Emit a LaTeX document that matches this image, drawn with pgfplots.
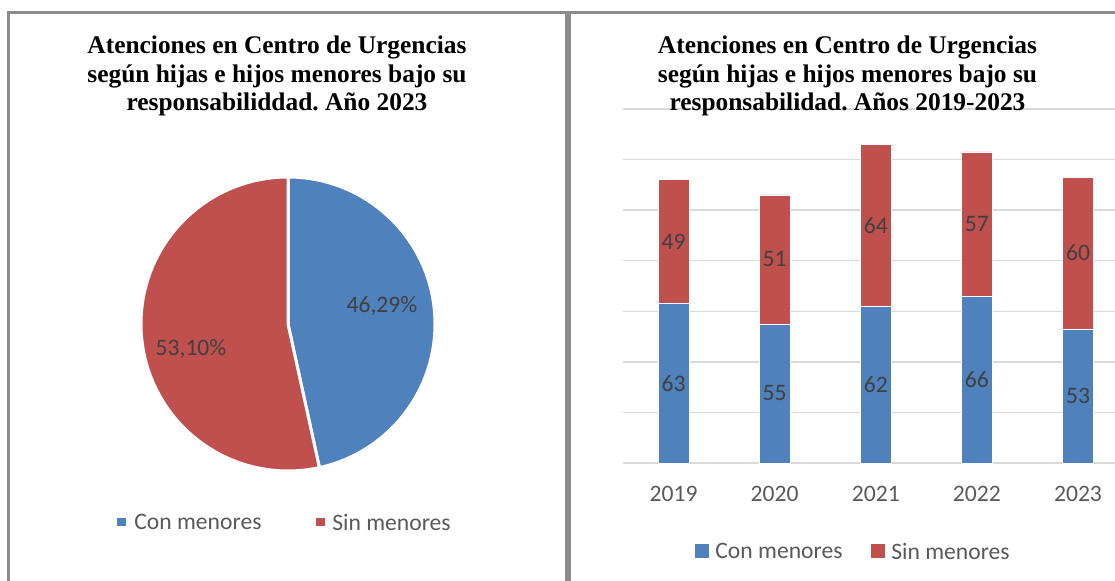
\documentclass[border=0pt]{standalone}
\usepackage{pgfplots}
\usepackage{pgfplotstable}
\pgfplotsset{compat=1.18}
\usepackage{fontspec}
\setmainfont{Carlito}
\newfontfamily\titlefont{Liberation Serif}
\frenchspacing
\definecolor{cblue}{HTML}{4F81BD}
\definecolor{cred}{HTML}{C0504D}
\definecolor{gridgray}{HTML}{D9D9D9}
\definecolor{framegray}{HTML}{8C8C8C}
\definecolor{labgray}{HTML}{404040}
\definecolor{axgray}{HTML}{595959}
\newcommand\lbl{\fontsize{11.8pt}{14pt}\selectfont}
\newcommand\ttl{\titlefont\bfseries\fontsize{12.7pt}{14.25pt}\selectfont}
% pie data (percentages)
\pgfplotstableread{
cat share
Con 46.29
Sin 53.10
}\piedata
% bar data
\pgfplotstableread{
x year con sin
0 2019 63 49
1 2020 55 51
2 2021 62 64
3 2022 66 57
4 2023 53 60
}\bardata
\begin{document}
\begin{tikzpicture}
\useasboundingbox (0,0) rectangle (557.5pt,290.5pt);
% panel frames
\draw[framegray, line width=1.5pt] (3.25pt,284pt) -- (557.5pt,284pt);
\draw[framegray, line width=1.5pt] (4pt,284.75pt) -- (4pt,0pt);
\draw[framegray, line width=3pt] (284pt,284.75pt) -- (284pt,0pt);
% titles
\node[anchor=base, inner sep=0pt, font=\ttl] at (138.5pt,263.5pt) {Atenciones en Centro de Urgencias};
\node[anchor=base, inner sep=0pt, font=\ttl] at (138.5pt,249pt) {según hijas e hijos menores bajo su};
\node[anchor=base, inner sep=0pt, font=\ttl] at (138.5pt,235pt) {responsabiliddad. Año 2023};
% pie
\pgfplotstablegetelem{0}{share}\of\piedata \let\sA\pgfplotsretval
\pgfplotstablegetelem{1}{share}\of\piedata \let\sB\pgfplotsretval
\pgfmathsetmacro\fracA{\sA/(\sA+\sB)}
\pgfmathsetmacro\sepangle{90-360*\fracA}
\begin{axis}[at={(144pt,128.5pt)}, anchor=center, scale only axis,
  width=147pt, height=147pt, xmin=-1, xmax=1, ymin=-1, ymax=1,
  hide axis, clip=false]
\fill[cblue, draw=white, line width=1.5pt] (axis cs:0,0) -- (axis cs:0,1)
   arc[start angle=90, end angle=\sepangle, radius=73.5pt] -- cycle;
\fill[cred, draw=white, line width=1.5pt] (axis cs:0,0) -- (axis cs:0,1)
   arc[start angle=90, end angle=360+\sepangle, radius=73.5pt] -- cycle;
\node[text=labgray, font=\lbl] at (axis cs:0.639,0.122) {46,29\%};
\node[text=labgray, font=\lbl] at (axis cs:-0.66,-0.17) {53,10\%};
\end{axis}
% pie legend
\fill[cblue] (58.5pt,27.25pt) rectangle (62.75pt,31.5pt);
\node[anchor=west, inner sep=0pt, text=axgray, font=\lbl] at (67pt,29.5pt) {Con menores};
\fill[cred] (158pt,27.25pt) rectangle (162.25pt,31.5pt);
\node[anchor=west, inner sep=0pt, text=axgray, font=\lbl] at (166pt,29.5pt) {Sin menores};
% bar chart
\begin{axis}[at={(311.5pt,59pt)}, anchor=south west, scale only axis,
  width=246pt, height=177pt,
  ybar stacked, bar width=15.5pt,
  xmin=-0.5, xmax=4.366, ymin=0, ymax=140,
  xtick={0,...,4}, xticklabels={2019,2020,2021,2022,2023},
  ytick={0,20,...,140}, yticklabels={},
  ymajorgrids, grid style={draw=gridgray, line width=0.75pt},
  axis line style={draw=none}, major tick length=0pt,
  xticklabel style={anchor=center, yshift=-15.5pt, text=axgray, font=\lbl},
  /pgf/number format/assume math mode=true,
  nodes near coords,
  every node near coord/.append style={anchor=center, text=labgray, font=\lbl},
  clip=false]
\addplot[fill=cblue, draw=white, line width=0.4pt] table[x=x, y=con] {\bardata};
\addplot[fill=cred, draw=white, line width=0.4pt] table[x=x, y=sin] {\bardata};
\end{axis}
\node[anchor=base, inner sep=0pt, font=\ttl] at (423.75pt,263.5pt) {Atenciones en Centro de Urgencias};
\node[anchor=base, inner sep=0pt, font=\ttl] at (423.75pt,249pt) {según hijas e hijos menores bajo su};
\node[anchor=base, inner sep=0pt, font=\ttl] at (423.75pt,235pt) {responsabilidad. Años 2019-2023};
% bar legend
\fill[cblue] (347.5pt,11.5pt) rectangle (354.5pt,18.5pt);
\node[anchor=west, inner sep=0pt, text=axgray, font=\lbl] at (357.5pt,15pt) {Con menores};
\fill[cred] (435.5pt,11.5pt) rectangle (442.5pt,18.5pt);
\node[anchor=west, inner sep=0pt, text=axgray, font=\lbl] at (445.5pt,15pt) {Sin menores};
\end{tikzpicture}
\end{document}
